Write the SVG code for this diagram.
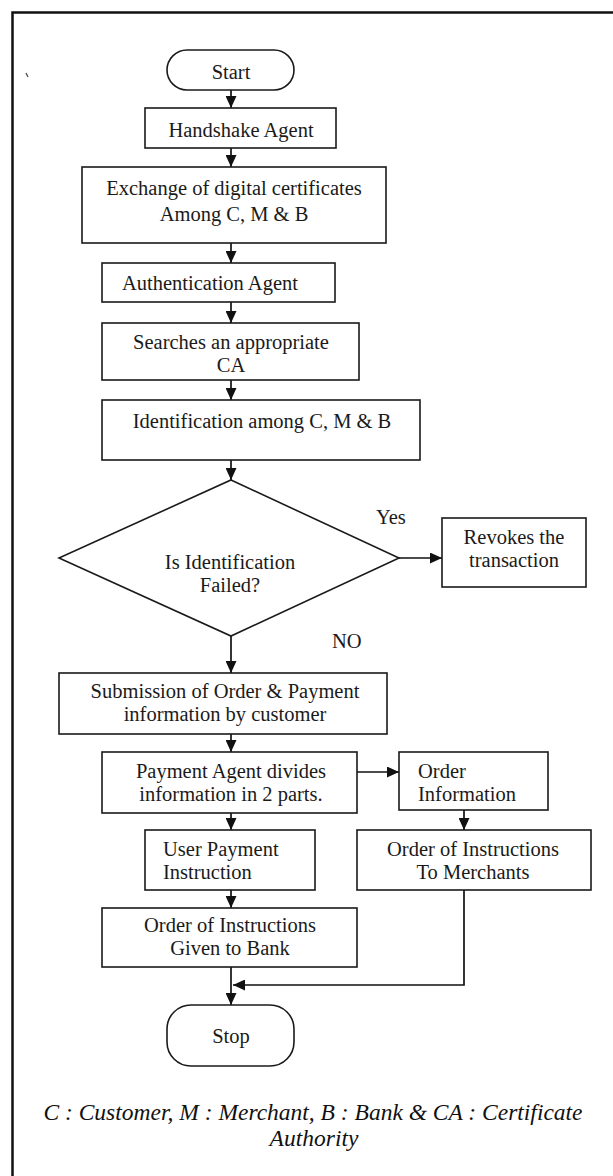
<svg xmlns="http://www.w3.org/2000/svg" width="613" height="1176" viewBox="0 0 613 1176">
  <style>
    .box { fill: #fff; stroke: #1a1a1a; stroke-width: 1.6; }
    .lbl { font-family: "Liberation Serif", "Times New Roman", serif; font-size: 20.5px; fill: #1a1a1a; }
    .mid { text-anchor: middle; }
    .edge { fill: none; stroke: #111; stroke-width: 1.7; }
    .note { font-family: "Liberation Serif", "Times New Roman", serif; font-size: 23.5px; font-style: italic; fill: #111; text-anchor: middle; }
  </style>
  <defs>
    <marker id="arrow" viewBox="0 0 12 11" refX="12" refY="5.5" markerWidth="12" markerHeight="11" markerUnits="userSpaceOnUse" orient="auto">
      <path d="M0,0 L12,5.5 L0,11 z" fill="#111"/>
    </marker>
  </defs>

  <rect width="613" height="1176" fill="#fff"/>
  <!-- page frame (open on the right and bottom) -->
  <path d="M12.5,1176 V12.5 H613" fill="none" stroke="#111" stroke-width="2.5"/>
  <path d="M26,73 L28,77" stroke="#444" stroke-width="1.2"/>

  <g id="connectors">
    <line class="edge" x1="231" y1="90" x2="231" y2="108" marker-end="url(#arrow)"/>
    <line class="edge" x1="231" y1="148" x2="231" y2="167" marker-end="url(#arrow)"/>
    <line class="edge" x1="231" y1="243" x2="231" y2="263" marker-end="url(#arrow)"/>
    <line class="edge" x1="231" y1="302" x2="231" y2="323" marker-end="url(#arrow)"/>
    <line class="edge" x1="231" y1="380" x2="231" y2="400" marker-end="url(#arrow)"/>
    <line class="edge" x1="231" y1="460" x2="231" y2="480" marker-end="url(#arrow)"/>
    <line class="edge" x1="399" y1="558" x2="442" y2="558" marker-end="url(#arrow)"/>
    <line class="edge" x1="231" y1="636" x2="231" y2="673" marker-end="url(#arrow)"/>
    <line class="edge" x1="231" y1="734" x2="231" y2="752" marker-end="url(#arrow)"/>
    <line class="edge" x1="357" y1="772" x2="399" y2="772" marker-end="url(#arrow)"/>
    <line class="edge" x1="464" y1="810" x2="464" y2="830" marker-end="url(#arrow)"/>
    <line class="edge" x1="231" y1="813" x2="231" y2="830" marker-end="url(#arrow)"/>
    <line class="edge" x1="231" y1="890" x2="231" y2="908" marker-end="url(#arrow)"/>
    <polyline class="edge" points="464,890 464,985 233,985" marker-end="url(#arrow)"/>
    <line class="edge" x1="231" y1="967" x2="231" y2="1005" marker-end="url(#arrow)"/>
    <text class="lbl" x="376" y="524">Yes</text>
    <text class="lbl" x="332" y="648">NO</text>
  </g>

  <g id="start">
    <rect class="box" x="167" y="50" width="127" height="40" rx="20"/>
    <text class="lbl mid" x="231" y="79">Start</text>
  </g>
  <g id="handshake">
    <rect class="box" x="145" y="108" width="191" height="40"/>
    <text class="lbl mid" x="241" y="137">Handshake Agent</text>
  </g>
  <g id="exchange">
    <rect class="box" x="82" y="167" width="304" height="76"/>
    <text class="lbl mid" x="234" y="195">Exchange of digital certificates</text>
    <text class="lbl mid" x="234" y="221">Among C, M &amp; B</text>
  </g>
  <g id="authentication">
    <rect class="box" x="102" y="263" width="233" height="39"/>
    <text class="lbl" x="122" y="290">Authentication Agent</text>
  </g>
  <g id="search-ca">
    <rect class="box" x="102" y="323" width="257" height="57"/>
    <text class="lbl mid" x="231" y="349">Searches an appropriate</text>
    <text class="lbl mid" x="231" y="372">CA</text>
  </g>
  <g id="identification">
    <rect class="box" x="102" y="400" width="318" height="60"/>
    <text class="lbl mid" x="262" y="428">Identification among C, M &amp; B</text>
  </g>
  <g id="decision">
    <polygon class="box" points="231,480 399,558 231,636 59,558"/>
    <text class="lbl mid" x="230" y="569">Is Identification</text>
    <text class="lbl mid" x="230" y="592">Failed?</text>
  </g>
  <g id="revoke">
    <rect class="box" x="442" y="518" width="144" height="69"/>
    <text class="lbl mid" x="514" y="544">Revokes the</text>
    <text class="lbl mid" x="514" y="567">transaction</text>
  </g>
  <g id="submission">
    <rect class="box" x="59" y="673" width="328" height="61"/>
    <text class="lbl mid" x="225" y="698">Submission of Order &amp; Payment</text>
    <text class="lbl mid" x="225" y="721">information by customer</text>
  </g>
  <g id="payment-agent">
    <rect class="box" x="102" y="752" width="255" height="61"/>
    <text class="lbl mid" x="231" y="778">Payment Agent divides</text>
    <text class="lbl mid" x="231" y="801">information in 2 parts.</text>
  </g>
  <g id="order-info">
    <rect class="box" x="399" y="752" width="149" height="58"/>
    <text class="lbl" x="418" y="778">Order</text>
    <text class="lbl" x="418" y="801">Information</text>
  </g>
  <g id="merchant-orders">
    <rect class="box" x="357" y="830" width="234" height="60"/>
    <text class="lbl mid" x="473" y="856">Order of Instructions</text>
    <text class="lbl mid" x="473" y="879">To Merchants</text>
  </g>
  <g id="user-payment">
    <rect class="box" x="145" y="830" width="170" height="60"/>
    <text class="lbl" x="163" y="856">User Payment</text>
    <text class="lbl" x="163" y="879">Instruction</text>
  </g>
  <g id="bank-orders">
    <rect class="box" x="102" y="908" width="255" height="59"/>
    <text class="lbl mid" x="230" y="932">Order of Instructions</text>
    <text class="lbl mid" x="230" y="955">Given to Bank</text>
  </g>
  <g id="stop">
    <rect class="box" x="167" y="1005" width="127" height="61" rx="24"/>
    <text class="lbl mid" x="231" y="1043">Stop</text>
  </g>

  <g id="legend">
    <text class="note" x="313" y="1120">C : Customer, M : Merchant, B : Bank &amp; CA : Certificate</text>
    <text class="note" x="314" y="1146">Authority</text>
  </g>
</svg>
